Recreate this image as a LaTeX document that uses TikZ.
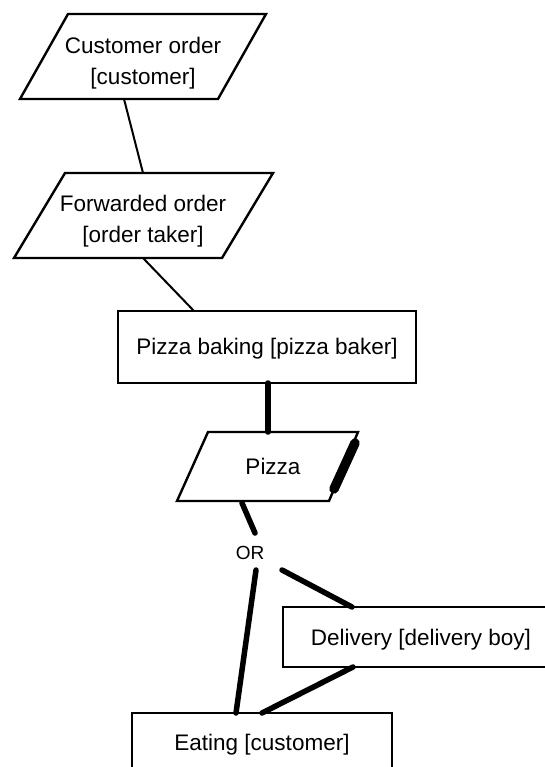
\documentclass[tikz,border=0pt]{standalone}
\usepackage{fontspec}
\setmainfont{Liberation Sans}
\begin{document}
\begin{tikzpicture}[x=1pt,y=-1pt,
  lbl/.style={font=\fontsize{22.5}{31.5}\selectfont, align=center, inner sep=0pt},
  box/.style={draw, line width=2.4pt, lbl},
  outline/.style={line width=2.4pt},
  thin/.style={line width=2pt},
  thick/.style={line width=5.5pt, line cap=round},
  thicker/.style={line width=9.5pt, line cap=round}]
\useasboundingbox (0,0) rectangle (545,767);
% Customer order
\draw[outline] (68,14) -- (266,14) -- (218,99) -- (20,99) -- cycle;
\node[lbl] (co) at (143,63) {Customer order\\{[customer]}};
\coordinate (coB) at (124,99);
% Forwarded order
\draw[outline] (65,173) -- (273,173) -- (222,258) -- (14,258) -- cycle;
\node[lbl] (fo) at (143,221) {Forwarded order\\{[order taker]}};
\coordinate (foT) at (143,173);
\coordinate (foB) at (143,258);
% Pizza baking
\node[box, minimum width=298pt, minimum height=72pt] (pb) at (267,347) {};
\node[lbl] (pbt) at (267,349) {Pizza baking [pizza baker]};
\coordinate (pbT) at (194,311);
\coordinate (pbB) at (268,383);
% Pizza
\draw[outline] (208,432) -- (358,432) -- (329,501) -- (177,501) -- cycle;
\node[lbl] (pz) at (273,466) {Pizza};
\coordinate (pzT) at (268,432);
\coordinate (pzB) at (242,503);
\coordinate (pzR1) at (355,443);
\coordinate (pzR2) at (334,489);
% OR
\node[lbl, font=\fontsize{19}{22}\selectfont] (or) at (250,553) {OR};
\coordinate (orT) at (255,533);
\coordinate (orB) at (256,570);
\coordinate (orR) at (282,570);
% Delivery
\node[box, minimum width=276pt, minimum height=60pt] (dl) at (421,637) {};
\node[lbl] (dlt) at (421,640) {Delivery [delivery boy]};
\coordinate (dlT) at (352,607);
\coordinate (dlB) at (353,667);
% Eating
\node[box, minimum width=260pt, minimum height=70pt] (ea) at (262,748) {};
\node[lbl] (eat) at (262,745) {Eating [customer]};
\coordinate (eaT1) at (236,713);
\coordinate (eaT2) at (262,713);
% connectors
\draw[thin] (coB) -- (foT);
\draw[thin] (foB) -- (pbT);
\draw[thick] (pbB) -- (pzT);
\draw[thicker] (pzR1) -- (pzR2);
\draw[thick] (pzB) -- (orT);
\draw[thick] (orB) -- (eaT1);
\draw[thick] (orR) -- (dlT);
\draw[thick] (dlB) -- (eaT2);
\end{tikzpicture}
\end{document}
